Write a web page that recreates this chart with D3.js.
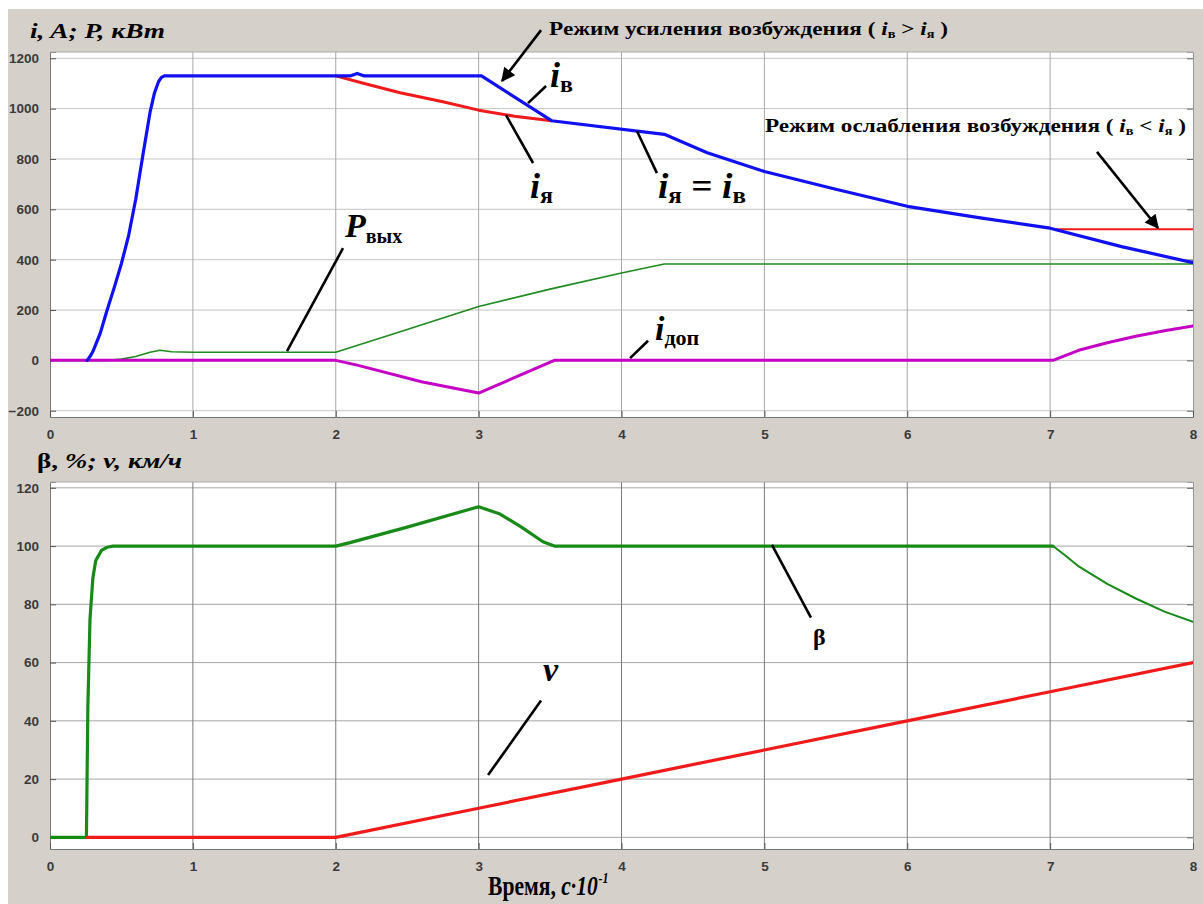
<!DOCTYPE html>
<html>
<head>
<meta charset="utf-8">
<script src="https://cdn.jsdelivr.net/npm/d3@7"></script>
<style>
  html, body { margin: 0; padding: 0; background: #ffffff; }
  svg { display: block; }
  .tick-label { font-family: "Liberation Sans", Arial, sans-serif; font-weight: bold; font-size: 13.5px; fill: #3a3a3a; }
  .serif { font-family: "Liberation Serif", "Times New Roman", serif; font-weight: bold; fill: #000; }
</style>
</head>
<body>
<script>
// ---- time axis (x), shared by both panels, units of c·10^-1
const timeTicks = [0, 1, 2, 3, 4, 5, 6, 7, 8];
const currentTicks = [-200, 0, 200, 400, 600, 800, 1000, 1200];
const percentTicks = [0, 20, 40, 60, 80, 100, 120];

// ---- upper panel: currents (A) and output power (kW)
const fieldCurrent = [ // i_в
  [0.26, 0], [0.28, 15], [0.30, 35], [0.35, 105], [0.40, 200], [0.45, 290], [0.50, 385],
  [0.55, 495], [0.60, 640], [0.65, 815], [0.70, 985], [0.73, 1060], [0.76, 1108],
  [0.78, 1124], [0.80, 1130],
  [2.10, 1130], [2.15, 1140], [2.20, 1130], [3.02, 1130], [3.51, 952], [4.30, 898],
  [4.60, 825], [5.00, 750], [5.50, 680], [6.00, 612], [6.50, 567], [7.00, 525],
  [7.50, 452], [8.00, 388]
];
const armatureCurrent = [ // i_я
  [2.00, 1130], [2.20, 1100], [2.45, 1063], [2.75, 1027], [3.00, 994], [3.25, 970],
  [3.51, 952], [4.30, 898], [4.60, 825], [5.00, 750], [5.50, 680], [6.00, 612],
  [6.50, 567], [7.00, 525], [7.03, 521], [8.00, 521]
];
const outputPower = [ // P_вых
  [0.00, 0], [0.40, 0], [0.50, 5], [0.60, 15], [0.70, 32], [0.77, 40], [0.85, 34],
  [1.00, 32], [2.00, 32], [2.50, 123], [3.00, 214], [3.50, 283], [4.00, 347],
  [4.30, 383], [8.00, 383]
];
const extraCurrent = [ // i_доп
  [0.00, 0], [2.00, 0], [2.15, -19], [2.60, -85], [3.00, -130], [3.53, 0], [7.02, 0],
  [7.20, 40], [7.40, 70], [7.60, 96], [7.80, 118], [8.00, 137]
];

// ---- lower panel: excitation ratio β (%) and speed v (km/h)
const betaRatio = [
  [0.00, 0], [0.255, 0], [0.265, 45], [0.28, 75], [0.30, 89], [0.32, 95], [0.36, 98.5],
  [0.40, 99.6], [0.44, 100], [2.00, 100], [2.10, 101.2], [2.50, 106.5], [3.00, 113.5],
  [3.15, 111], [3.30, 106.5], [3.45, 101.5], [3.53, 100], [7.02, 100], [7.10, 97],
  [7.20, 93], [7.40, 87], [7.60, 82], [7.80, 77.5], [8.00, 74]
];
const speed = [
  [0.26, 0], [2.00, 0], [3.00, 10], [4.00, 20], [5.00, 30], [6.00, 40], [7.00, 50], [8.00, 60]
];

// ---- layout
const W = 1203, H = 904;
const left = 50, right = 1193;
const topPanel = { y0: 52, y1: 417, domain: [-225, 1225] };
const botPanel = { y0: 482, y1: 849, domain: [-4, 122] };

const svg = d3.select("body").append("svg").attr("width", W).attr("height", H);
const defs = svg.append("defs");

defs.append("marker")
  .attr("id", "arrowHead").attr("viewBox", "0 0 10 10").attr("refX", 9).attr("refY", 5)
  .attr("markerWidth", 16).attr("markerHeight", 14).attr("markerUnits", "userSpaceOnUse")
  .attr("orient", "auto")
  .append("path").attr("d", "M0,0 L10,5 L0,10 z").attr("fill", "#000");

// figure background
svg.append("rect").attr("x", 8).attr("y", 9).attr("width", W - 8).attr("height", H - 9).attr("fill", "#d5d0ca");

const x = d3.scaleLinear().domain([0, 8]).range([left, right]);
const yTop = d3.scaleLinear().domain(topPanel.domain).range([topPanel.y1, topPanel.y0]);
const yBot = d3.scaleLinear().domain(botPanel.domain).range([botPanel.y1, botPanel.y0]);

function drawPanel(panel, y, yTicks, clipId, vGridColor, hGridColor) {
  const g = svg.append("g");
  g.append("rect").attr("x", left).attr("y", panel.y0).attr("width", right - left)
    .attr("height", panel.y1 - panel.y0).attr("fill", "#ffffff");
  defs.append("clipPath").attr("id", clipId).append("rect")
    .attr("x", left).attr("y", panel.y0).attr("width", right - left).attr("height", panel.y1 - panel.y0);

  // grid
  g.append("g").selectAll("line").data(yTicks).join("line")
    .attr("x1", left).attr("x2", right).attr("y1", d => y(d)).attr("y2", d => y(d))
    .attr("stroke", hGridColor).attr("stroke-width", 1);
  g.append("g").selectAll("line").data(timeTicks.slice(1, -1)).join("line")
    .attr("x1", d => x(d)).attr("x2", d => x(d)).attr("y1", panel.y0).attr("y2", panel.y1)
    .attr("stroke", vGridColor).attr("stroke-width", 1);

  // axes via d3 axis generators (inward ticks)
  const yAxis = g.append("g").attr("transform", `translate(${left},0)`)
    .call(d3.axisLeft(y).tickValues(yTicks).tickSize(-6).tickPadding(11).tickFormat(d3.format("d")));
  yAxis.select(".domain").attr("stroke", "#777");
  yAxis.selectAll(".tick line").attr("stroke", "#555");
  yAxis.selectAll(".tick text").attr("class", "tick-label").attr("fill", null);

  const yAxisR = g.append("g").attr("transform", `translate(${right},0)`)
    .call(d3.axisRight(y).tickValues(yTicks).tickSize(-6).tickFormat(""));
  yAxisR.select(".domain").attr("stroke", "#999");
  yAxisR.selectAll(".tick line").attr("stroke", "#666");

  const xAxis = g.append("g").attr("transform", `translate(0,${panel.y1})`)
    .call(d3.axisBottom(x).tickValues(timeTicks).tickSize(-6).tickPadding(12).tickFormat(d3.format("d")));
  xAxis.select(".domain").attr("stroke", "#777");
  xAxis.selectAll(".tick line").attr("stroke", "#555");
  xAxis.selectAll(".tick text").attr("class", "tick-label").attr("fill", null);

  g.append("line").attr("x1", left).attr("x2", right).attr("y1", panel.y0).attr("y2", panel.y0)
    .attr("stroke", "#aaa");
  return g;
}

drawPanel(topPanel, yTop, currentTicks, "clipTop", "#a8a8a8", "#c4c4c4");
drawPanel(botPanel, yBot, percentTicks, "clipBot", "#7a7a7a", "#a6a6a6");

function series(data, y, clipId, color, width) {
  svg.append("path").datum(data)
    .attr("clip-path", `url(#${clipId})`)
    .attr("fill", "none").attr("stroke", color).attr("stroke-width", width)
    .attr("stroke-linejoin", "round").attr("stroke-linecap", "round")
    .attr("d", d3.line().x(d => x(d[0])).y(d => y(d[1])));
}

// upper panel curves
series(outputPower, yTop, "clipTop", "#1f8a1f", 1.6);
series(extraCurrent, yTop, "clipTop", "#c400c4", 3);
series(armatureCurrent.filter(d => d[0] <= 3.51), yTop, "clipTop", "#f01a1a", 3);
series(armatureCurrent.filter(d => d[0] >= 7.0), yTop, "clipTop", "#f01a1a", 2);
series(fieldCurrent, yTop, "clipTop", "#1010f0", 3.2);

// lower panel curves
series(betaRatio.filter(d => d[0] <= 7.02), yBot, "clipBot", "#178a17", 3.2);
series(betaRatio.filter(d => d[0] >= 7.02), yBot, "clipBot", "#178a17", 2);
series(speed, yBot, "clipBot", "#f01a1a", 3.2);

// ---- titles
svg.append("text").attr("class", "serif").attr("x", 30).attr("y", 38)
  .attr("font-size", 22).attr("font-style", "italic")
  .attr("textLength", 135).attr("lengthAdjust", "spacingAndGlyphs")
  .text("i, A; P, кВт");

const tBot = svg.append("text").attr("class", "serif").attr("x", 37).attr("y", 468)
  .attr("font-size", 22).attr("textLength", 145).attr("lengthAdjust", "spacingAndGlyphs");
tBot.append("tspan").text("β, ");
tBot.append("tspan").attr("font-style", "italic").text("%; v, км/ч");

// time-axis caption, narrowed horizontally like a condensed face
const xl = svg.append("g").attr("transform", "translate(488,895) scale(0.8,1)")
  .append("text").attr("class", "serif").attr("x", 0).attr("y", 0).attr("font-size", 27);
xl.append("tspan").text("Время, ");
xl.append("tspan").attr("font-style", "italic").text("c·10");
xl.append("tspan").attr("font-style", "italic").attr("font-size", 15).attr("dx", 1).attr("dy", -12).text("-1");

// ---- annotations (anchored in data units)
function leader(p, q, y, arrow) {
  const l = svg.append("line")
    .attr("x1", x(p[0])).attr("y1", y(p[1])).attr("x2", x(q[0])).attr("y2", y(q[1]))
    .attr("stroke", "#000").attr("stroke-width", 2.6);
  if (arrow) l.attr("marker-end", "url(#arrowHead)");
}

function subLabel(pos, y, main, sub, opts) {
  const t = svg.append("text").attr("class", "serif")
    .attr("x", x(pos[0])).attr("y", y(pos[1])).attr("font-size", opts.size);
  t.append("tspan").attr("font-style", "italic").text(main);
  t.append("tspan").attr("font-size", opts.subSize).attr("dy", opts.subDy).text(sub);
  return t;
}

// mode captions
function modeCaption(pos, text, rel, a, b, width) {
  const t = svg.append("text").attr("class", "serif")
    .attr("x", x(pos[0])).attr("y", yTop(pos[1])).attr("font-size", 19.5)
    .attr("textLength", width).attr("lengthAdjust", "spacingAndGlyphs");
  t.append("tspan").text(text + " ( ");
  t.append("tspan").attr("font-style", "italic").text("i");
  t.append("tspan").attr("font-size", 12).attr("dy", 3).text(a);
  t.append("tspan").attr("dy", -3).text(" " + rel + " ");
  t.append("tspan").attr("font-style", "italic").text("i");
  t.append("tspan").attr("font-size", 12).attr("dy", 3).text(b);
  t.append("tspan").attr("dy", -3).text(" )");
}

modeCaption([3.493, 1292], "Режим усиления возбуждения", ">", "в", "я", 399);
leader([3.437, 1312], [3.164, 1110], yTop, true);

modeCaption([5.004, 907], "Режим ослабления возбуждения", "<", "в", "я", 421);
leader([7.328, 828], [7.755, 526], yTop, true);

subLabel([3.50, 1085], yTop, "i", "в", { size: 36, subSize: 24, subDy: 5 });
leader([3.472, 1090], [3.346, 1022], yTop, false);

subLabel([3.36, 645], yTop, "i", "я", { size: 36, subSize: 24, subDy: 5 });
leader([3.192, 974], [3.381, 784], yTop, false);

const eq = svg.append("text").attr("class", "serif")
  .attr("x", x(4.255)).attr("y", yTop(645)).attr("font-size", 36)
  .attr("textLength", 88).attr("lengthAdjust", "spacingAndGlyphs");
eq.append("tspan").attr("font-style", "italic").text("i");
eq.append("tspan").attr("font-size", 24).attr("dy", 5).text("я");
eq.append("tspan").attr("dy", -5).text(" = ");
eq.append("tspan").attr("font-style", "italic").text("i");
eq.append("tspan").attr("font-size", 24).attr("dy", 5).text("в");
leader([4.108, 911], [4.248, 744], yTop, false);

subLabel([2.065, 490], yTop, "P", "вых", { size: 34, subSize: 20, subDy: 6 });
leader([1.659, 37], [2.051, 446], yTop, false);

subLabel([4.234, 81], yTop, "i", "доп", { size: 34, subSize: 22, subDy: 5 });
leader([4.06, 9], [4.186, 78], yTop, false);

svg.append("text").attr("class", "serif").attr("x", x(5.34)).attr("y", yBot(66))
  .attr("font-size", 24).text("β");
leader([5.053, 100.4], [5.326, 75.4], yBot, false);

svg.append("text").attr("class", "serif").attr("x", x(3.45)).attr("y", yBot(53.7))
  .attr("font-size", 34).attr("font-style", "italic").text("v");
leader([3.066, 21.4], [3.437, 47], yBot, false);
</script>
</body>
</html>
